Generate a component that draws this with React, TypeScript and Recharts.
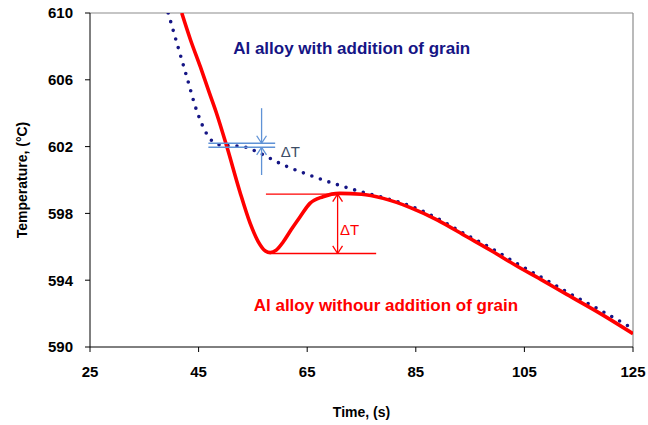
import React from "react";
import {
  LineChart,
  Line,
  XAxis,
  YAxis,
  ReferenceLine,
  ReferenceDot,
} from "recharts";

// time (s) and temperature (°C)
const refinedTime = [39.4, 41, 42.8, 44.6, 46.8, 48.9, 53.2, 56.3, 60.6, 63.7, 69.8, 76, 79, 84, 89, 94.4, 99, 103.6, 108, 112.8, 119, 125];
const refinedTemp = [610, 608.2, 606.2, 604.2, 602.6, 602.1, 602.0, 601.6, 600.9, 600.5, 599.8, 599.2, 598.95, 598.45, 597.7, 596.7, 595.9, 595.0, 594.2, 593.3, 592.2, 591.1];

const plainTime = [41.9, 43.5, 45.3, 47, 48.3, 50.2, 52.6, 54.5, 56, 57.3, 58.2, 59.3, 60.6, 62, 63.7, 65.5, 67.9, 71, 75, 79, 84, 89, 94.4, 99, 103.6, 108, 112.8, 119, 125];
const plainTemp = [610, 608.4, 606.8, 605.2, 604.0, 602.0, 599.3, 597.4, 596.3, 595.75, 595.65, 595.8, 596.3, 597.0, 597.8, 598.6, 599.0, 599.2, 599.15, 598.9, 598.35, 597.6, 596.6, 595.75, 594.85, 594.05, 593.15, 592.0, 590.8];

const xTicks = [25, 45, 65, 85, 105, 125];
const yTicks = [590, 594, 598, 602, 606, 610];

// delta T markers (data units)
const blueDelta = { x1: 46.8, x2: 59.1, hi: 602.2, lo: 601.96, arrowX: 56.6, top: 604.3, bottom: 600.3 };
const redDelta = { topFrom: 57.4, topTo: 72, top: 599.15, lowFrom: 58.6, lowTo: 77.7, low: 595.6, arrowX: 70.6 };

const refinedData = refinedTime.map((t, i) => ({ t, v: refinedTemp[i] }));
const plainData = plainTime.map((t, i) => ({ t, v: plainTemp[i] }));

const BLUE_ANN = "#5f92d6";
const RED = "#ff0000";
const NAVY = "#151585";
const font = "Liberation Sans, Arial, sans-serif";

function seg(x1: number, y1: number, x2: number, y2: number, color: string, key: string) {
  return (
    <ReferenceLine
      key={key}
      segment={[{ x: x1, y: y1 }, { x: x2, y: y2 }]}
      stroke={color}
      strokeWidth={1.3}
      ifOverflow="visible"
    />
  );
}

// small chevron at tip; dir 1 = pointing down, -1 = pointing up
function head(x: number, y: number, dir: number, color: string, key: string) {
  const dx = 0.9;
  const dy = 0.45 * dir;
  return [
    seg(x - dx, y + dy, x, y, color, key + "a"),
    seg(x + dx, y + dy, x, y, color, key + "b"),
  ];
}

export default function App() {
  return (
    <div style={{ position: "absolute", left: 0, top: 0, width: 648, height: 425, background: "#fff" }}>
      <LineChart width={648} height={425} margin={{ top: 13, right: 15, bottom: 0, left: 0 }}>
        <XAxis
          type="number"
          dataKey="t"
          domain={[25, 125]}
          ticks={xTicks}
          allowDataOverflow
          stroke="#000"
          tickSize={5}
          tickMargin={14}
          height={78}
          tick={{ fill: "#000", fontSize: 15, fontWeight: "bold", fontFamily: font }}
          label={{ value: "Time, (s)", position: "insideBottom", offset: 8, fill: "#000", fontSize: 14, fontWeight: "bold", fontFamily: font }}
        />
        <YAxis
          type="number"
          domain={[590, 610]}
          ticks={yTicks}
          allowDataOverflow
          stroke="#000"
          width={90}
          tickSize={5}
          tickMargin={12}
          tick={{ fill: "#000", fontSize: 15, fontWeight: "bold", fontFamily: font }}
          label={{ value: "Temperature, (°C)", angle: -90, position: "insideLeft", offset: 22, style: { textAnchor: "middle" }, fill: "#000", fontSize: 14, fontWeight: "bold", fontFamily: font }}
        />
        <ReferenceLine y={610} stroke="#8c8c8c" strokeWidth={1.2} />
        <ReferenceLine x={125} stroke="#8c8c8c" strokeWidth={1.2} />

        <Line
          data={refinedData}
          dataKey="v"
          type="monotone"
          stroke={NAVY}
          strokeWidth={3.6}
          strokeDasharray="0 9"
          strokeLinecap="round"
          dot={false}
          isAnimationActive={false}
        />
        <Line
          data={plainData}
          dataKey="v"
          type="monotone"
          stroke={RED}
          strokeWidth={3.6}
          dot={false}
          isAnimationActive={false}
        />

        {seg(blueDelta.x1, blueDelta.hi, blueDelta.x2, blueDelta.hi, BLUE_ANN, "bh1")}
        {seg(blueDelta.x1, blueDelta.lo, blueDelta.x2, blueDelta.lo, BLUE_ANN, "bh2")}
        {seg(blueDelta.arrowX, blueDelta.top, blueDelta.arrowX, blueDelta.hi, BLUE_ANN, "bv1")}
        {seg(blueDelta.arrowX, blueDelta.bottom, blueDelta.arrowX, blueDelta.lo, BLUE_ANN, "bv2")}
        {head(blueDelta.arrowX, blueDelta.hi, 1, BLUE_ANN, "bhd1")}
        {head(blueDelta.arrowX, blueDelta.lo, -1, BLUE_ANN, "bhd2")}

        {seg(redDelta.topFrom, redDelta.top, redDelta.topTo, redDelta.top, RED, "rh1")}
        {seg(redDelta.lowFrom, redDelta.low, redDelta.lowTo, redDelta.low, RED, "rh2")}
        {seg(redDelta.arrowX, redDelta.top, redDelta.arrowX, redDelta.low, RED, "rv")}
        {head(redDelta.arrowX, redDelta.top, -1, RED, "rhd1")}
        {head(redDelta.arrowX, redDelta.low, 1, RED, "rhd2")}

        <ReferenceDot x={61.9} y={601.7} r={0} label={{ value: "ΔT", position: "center", fill: "#3d4d66", fontSize: 15, fontFamily: font }} />
        <ReferenceDot x={72.8} y={597.0} r={0} label={{ value: "ΔT", position: "center", fill: RED, fontSize: 15, fontFamily: font }} />
        <ReferenceDot x={73.2} y={607.9} r={0} label={{ value: "Al alloy with addition of grain", position: "center", fill: NAVY, fontSize: 17, fontWeight: "bold", fontFamily: font }} />
        <ReferenceDot x={79.5} y={592.5} r={0} label={{ value: "Al alloy withour addition of grain", position: "center", fill: RED, fontSize: 17, fontWeight: "bold", fontFamily: font }} />
      </LineChart>
    </div>
  );
}
